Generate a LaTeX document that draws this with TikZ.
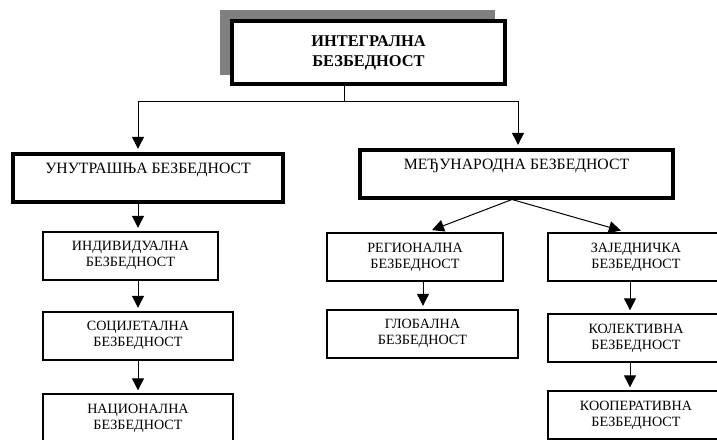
\documentclass[tikz,border=0pt]{standalone}
\usepackage{fontspec}
\setmainfont{Liberation Serif}
\usetikzlibrary{arrows.meta}

\tikzset{
	topbox/.style={draw, line width=3pt, fill=white, minimum width=204.75pt, minimum height=47.25pt, align=center, font=\fontsize{12.3}{15}\selectfont\bfseries},
	mainbox/.style={draw, line width=3pt, minimum height=36pt, align=center, font=\fontsize{11.8}{14}\selectfont},
	subbox/.style={draw, line width=1.5pt, minimum height=36pt, align=center, font=\fontsize{10.6}{12}\selectfont},
	arr/.style={-{Triangle[width=9pt,length=9pt]}, line width=0.75pt, shorten >=2pt},
}

\begin{document}
\begin{tikzpicture}[x=0.75pt,y=-0.75pt]
	\useasboundingbox (0,0) rectangle (717,439);
	\fill[gray] (220,10) rectangle (495,75);
	\node[topbox] (top) at (368.5,52.5) {ИНТЕГРАЛНА\\БЕЗБЕДНОСТ};
	\node[mainbox, minimum width=202.5pt] (inner) at (148,177.5) {УНУТРАШЊА БЕЗБЕДНОСТ\\~};
	\node[mainbox, minimum width=234.75pt] (inter) at (516.5,173.5) {МЕЂУНАРОДНА БЕЗБЕДНОСТ\\~};
	\node[subbox, minimum width=131.25pt] (indiv) at (130.5,255.5) {ИНДИВИДУАЛНА\\БЕЗБЕДНОСТ};
	\node[subbox, minimum width=142.5pt] (soc) at (138,335.5) {СОЦИЈЕТАЛНА\\БЕЗБЕДНОСТ};
	\node[subbox, minimum width=142.5pt] (nac) at (138,418) {НАЦИОНАЛНА\\БЕЗБЕДНОСТ};
	\node[subbox, minimum width=132pt] (reg) at (415,257) {РЕГИОНАЛНА\\БЕЗБЕДНОСТ};
	\node[subbox, minimum width=143.25pt] (glob) at (422.5,333.5) {ГЛОБАЛНА\\БЕЗБЕДНОСТ};
	\node[subbox, minimum width=132pt] (zaj) at (636,257) {ЗАЈЕДНИЧКА\\БЕЗБЕДНОСТ};
	\node[subbox, minimum width=132pt] (kol) at (636,338) {КОЛЕКТИВНА\\БЕЗБЕДНОСТ};
	\node[subbox, minimum width=132pt] (koop) at (636,415) {КООПЕРАТИВНА\\БЕЗБЕДНОСТ};
	\coordinate (split) at (344,101);
	\coordinate (lcol) at (138,0);
	\coordinate (rcol) at (518,0);
	\coordinate (gcol) at (423,0);
	\coordinate (kcol) at (630,0);
	\draw[line width=0.75pt] (top.south -| split) -- (split);
	\draw[arr] (split) -| (inner.north -| lcol);
	\draw[arr] (split) -| (inter.north -| rcol);
	\draw[arr] (inner.south -| lcol) -- (indiv.north -| lcol);
	\draw[arr] (indiv.south -| lcol) -- (soc.north -| lcol);
	\draw[arr] (soc.south -| lcol) -- (nac.north -| lcol);
	\draw[arr, shorten >=4pt] (inter.south -| 512,0) -- (reg.north -| 427,0);
	\draw[arr, shorten >=4pt] (inter.south -| 512,0) -- (zaj.north -| 626,0);
	\draw[arr] (reg.south -| gcol) -- (glob.north -| gcol);
	\draw[arr] (zaj.south -| kcol) -- (kol.north -| kcol);
	\draw[arr] (kol.south -| kcol) -- (koop.north -| kcol);
\end{tikzpicture}
\end{document}
